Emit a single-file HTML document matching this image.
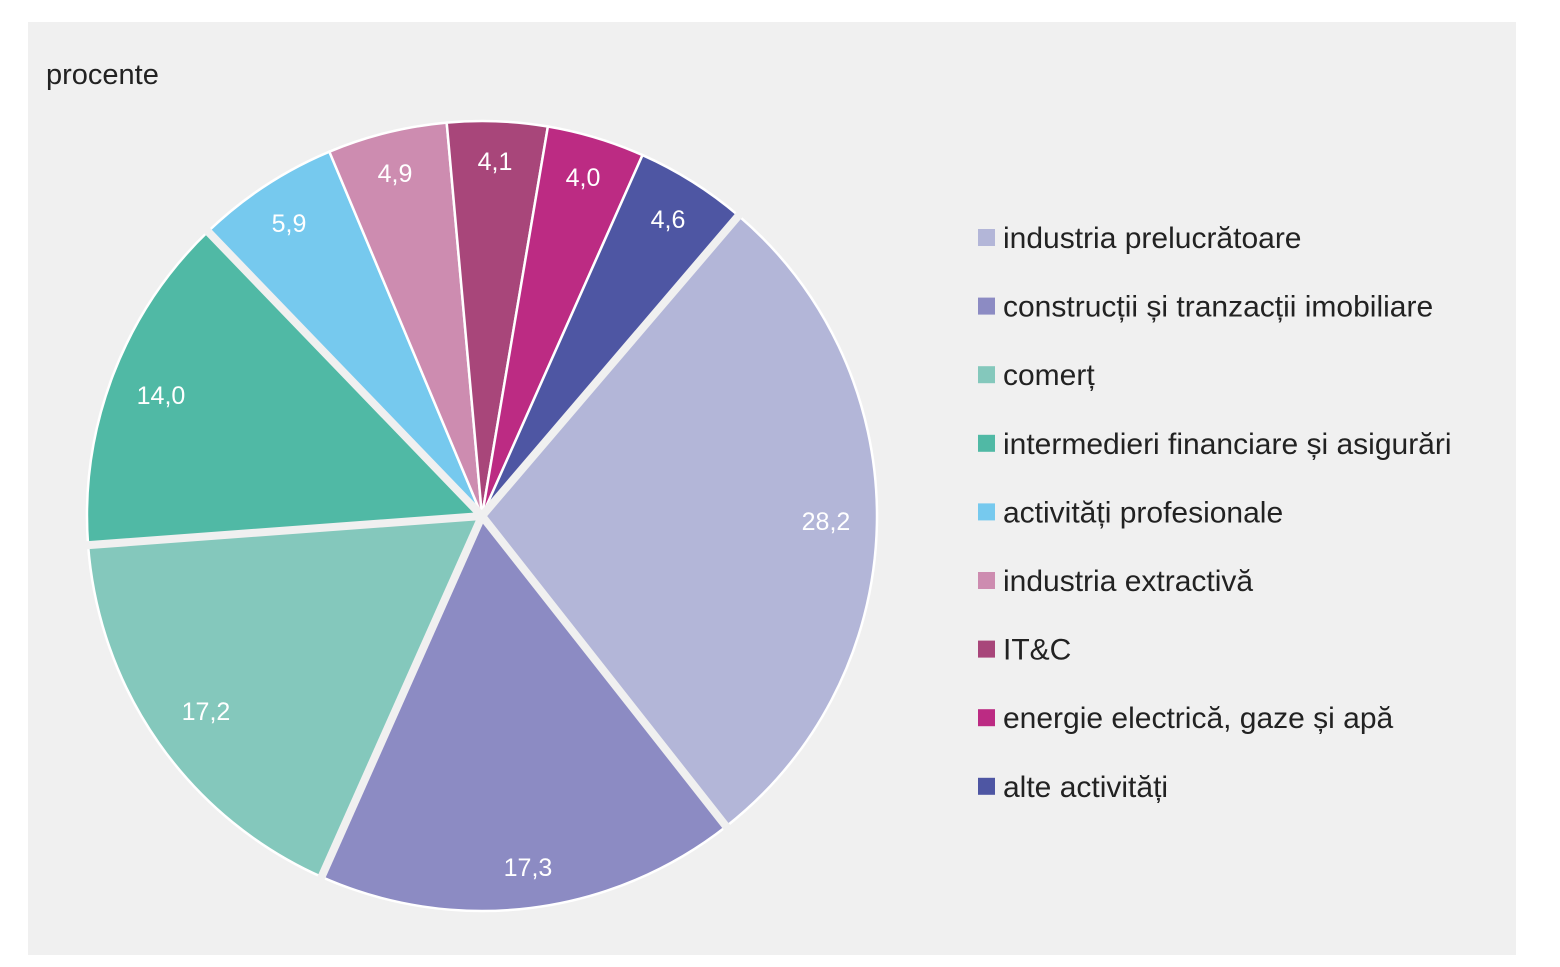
<!DOCTYPE html>
<html><head><meta charset="utf-8"><style>
html,body{margin:0;padding:0;background:#fff;width:1560px;height:967px;overflow:hidden}
svg{display:block;font-family:"Liberation Sans",sans-serif}
</style></head><body>
<svg id="s" width="1560" height="967" viewBox="0 0 1560 967">
<rect x="28" y="22" width="1488" height="933" fill="#f0f0f0"/>
<text x="46" y="84" font-size="29" fill="#222">procente</text>
<g id="pie"></g>
<g id="lab" fill="#fff" font-size="25" text-anchor="middle">
<text x="826" y="530">28,2</text>
<text x="528" y="876">17,3</text>
<text x="206" y="720">17,2</text>
<text x="161" y="404">14,0</text>
<text x="289" y="232">5,9</text>
<text x="395" y="182">4,9</text>
<text x="495" y="170">4,1</text>
<text x="583" y="186">4,0</text>
<text x="668" y="228">4,6</text>
</g>
<g font-size="30" fill="#222" id="leg"></g>
</svg>
<script>
var cx=482,cy=516,r=395;
var vals=[28.2,17.3,17.2,14.0,5.9,4.9,4.1,4.0,4.6];
var cols=["#b3b6d8","#8c8bc3","#84c8bc","#50b9a5","#76c9ee","#cd8cb0","#a8467a","#bc2b83","#4e56a3"];
var names=["industria prelucrătoare","construcții și tranzacții imobiliare","comerț","intermedieri financiare și asigurări","activități profesionale","industria extractivă","IT&C","energie electrică, gaze și apă","alte activități"];
var ns="http://www.w3.org/2000/svg";
var tot=vals.reduce((a,b)=>a+b,0);
var a=40.5, pie=document.getElementById("pie"), bounds=[];
function pt(t){var q=t*Math.PI/180;return [cx+r*Math.sin(q),cy-r*Math.cos(q)];}
for(var i=0;i<vals.length;i++){
 var b=a+vals[i]/tot*360;var p1=pt(a),p2=pt(b);
 var p=document.createElementNS(ns,"path");
 p.setAttribute("d","M"+cx+","+cy+"L"+p1[0]+","+p1[1]+"A"+r+","+r+" 0 "+((b-a)>180?1:0)+" 1 "+p2[0]+","+p2[1]+"Z");
 p.setAttribute("fill",cols[i]);p.setAttribute("stroke","#fff");p.setAttribute("stroke-width","2.5");
 pie.appendChild(p);bounds.push(a);a=b;
}
[0,1,2,3,4].forEach(function(k){var t=bounds[k];var l=document.createElementNS(ns,"line");
 l.setAttribute("x1",cx);l.setAttribute("y1",cy);l.setAttribute("x2",cx+(r+10)*Math.sin(t*Math.PI/180));l.setAttribute("y2",cy-(r+10)*Math.cos(t*Math.PI/180));
 l.setAttribute("stroke","#f0f0f0");l.setAttribute("stroke-width","8");pie.appendChild(l);});
var leg=document.getElementById("leg");
for(var i=0;i<9;i++){var y=248+i*68.6;
 var rc=document.createElementNS(ns,"rect");rc.setAttribute("x",978);rc.setAttribute("y",y-19);rc.setAttribute("width",17);rc.setAttribute("height",17);rc.setAttribute("fill",cols[i]);leg.appendChild(rc);
 var t=document.createElementNS(ns,"text");t.setAttribute("x",1003);t.setAttribute("y",y);t.textContent=names[i];leg.appendChild(t);}
</script>
</body></html>
